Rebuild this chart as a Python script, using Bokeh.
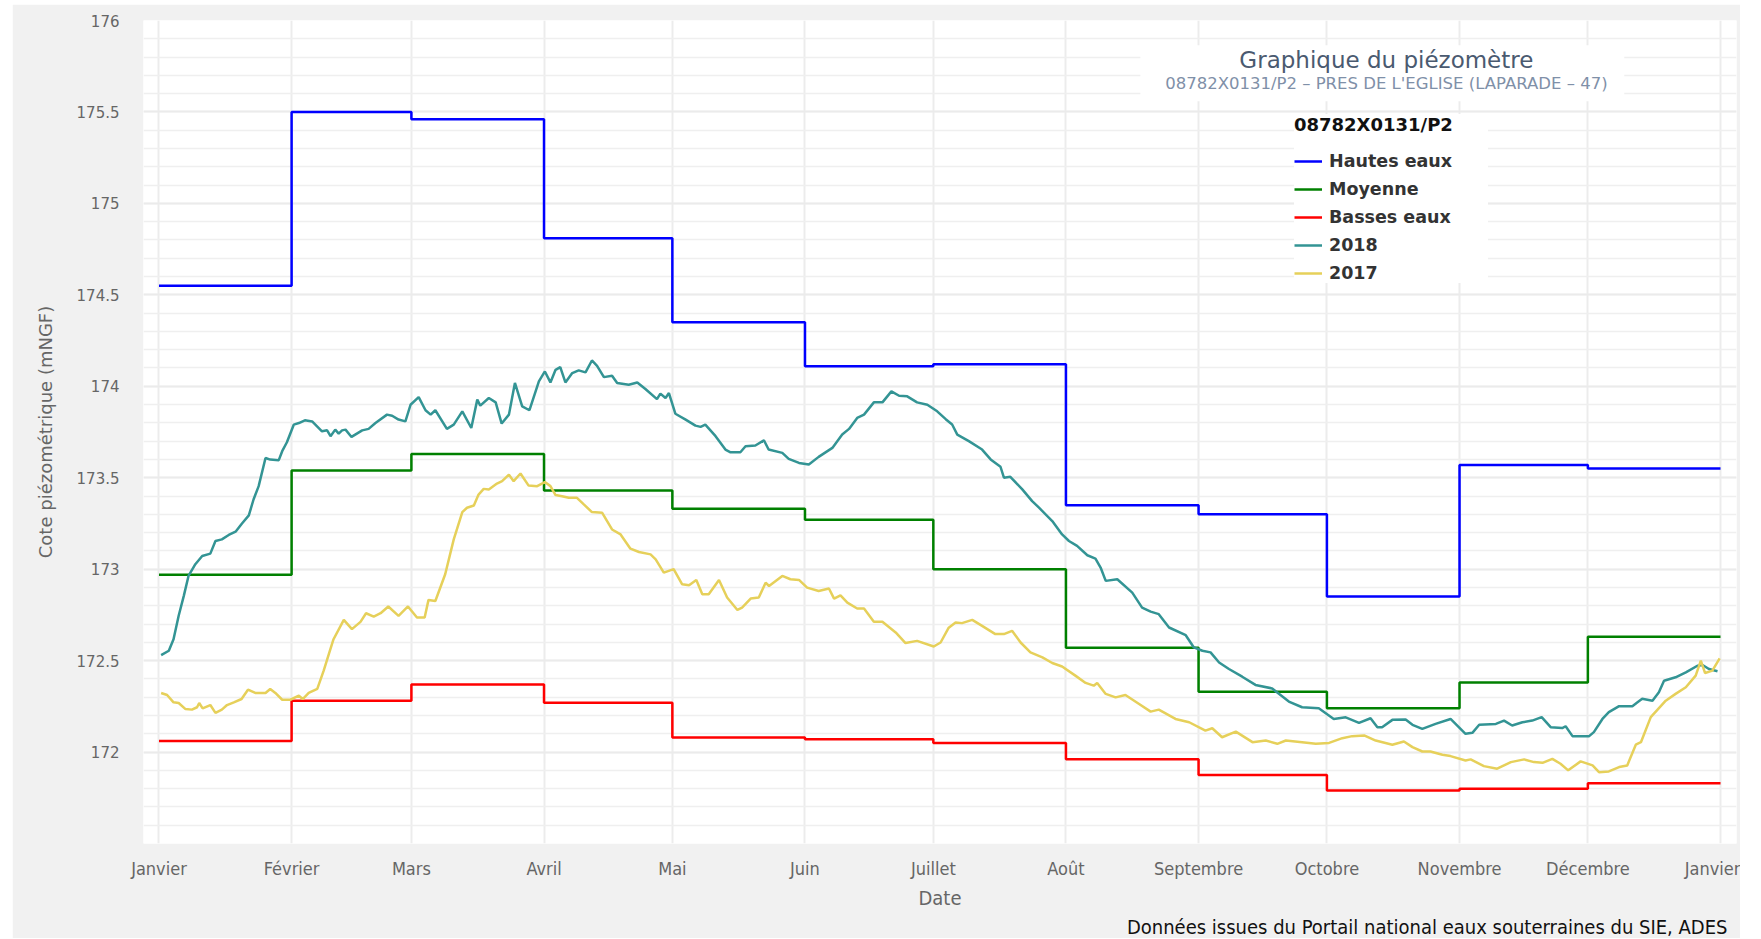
import numpy as np
import pandas as pd
from bokeh.plotting import figure
from bokeh.models import (FixedTicker, NumeralTickFormatter, Legend, LegendItem,
                          Label, BoxAnnotation, Range1d, Title)
from bokeh.embed import file_html
from bokeh.resources import INLINE

# ---------------- data ----------------
month_names = ["Janvier", "Février", "Mars", "Avril", "Mai", "Juin", "Juillet",
               "Août", "Septembre", "Octobre", "Novembre", "Décembre", "Janvier"]

hautes_eaux = [174.55, 175.50, 175.46, 174.81, 174.35, 174.11, 174.12,
               173.35, 173.30, 172.85, 173.57, 173.55]
moyenne = [172.97, 173.54, 173.63, 173.43, 173.33, 173.27, 173.00,
           172.57, 172.33, 172.24, 172.38, 172.63]
basses_eaux = [172.06, 172.28, 172.37, 172.27, 172.08, 172.07, 172.05,
               171.96, 171.875, 171.79, 171.80, 171.83]

days_2018 = [0.5, 2.3, 3.4, 4.6, 5.8, 6.9, 8.5, 10.1, 12.0, 13.2, 14.7, 16.3, 17.9, 19.4,
             21.0, 22.1, 23.3, 24.9, 26.0, 28.0, 28.8, 29.9, 31.5, 32.7, 34.1, 35.8, 38.1,
             39.3, 40.1, 41.2, 42.0, 42.8, 43.6, 45.0, 47.5, 49.0, 50.6, 53.3, 54.5, 56.0,
             57.6, 58.8, 60.7, 62.3, 63.5, 64.6, 67.3, 68.9, 70.9, 73.0, 74.4, 75.1, 77.1,
             78.7, 80.1, 81.8, 83.2, 84.9, 86.6, 88.8, 90.2, 91.5, 92.7, 93.8, 95.0, 96.6,
             98.1, 99.7, 101.2, 102.4, 104.0, 105.9, 107.1, 109.8, 111.8, 113.7, 116.4,
             117.2, 118.4, 119.2, 120.7, 123.1, 125.4, 126.6, 127.7, 130.1, 132.4, 133.6,
             135.9, 137.1, 139.4, 141.4, 142.5, 145.7, 147.2, 149.6, 151.9, 154.2, 157.4,
             159.7, 161.3, 163.2, 164.8, 167.1, 169.1, 171.2, 173.0, 174.9, 177.2, 179.6,
             181.9, 183.9, 185.4, 186.6, 189.3, 192.4, 194.4, 196.7, 197.5, 199.0, 201.8,
             204.1, 205.7, 208.8, 211.1, 212.7, 214.6, 217.0, 218.9, 220.1, 221.3, 224.0,
             227.5, 229.8, 231.8, 233.7, 236.1, 240.0, 241.9, 243.9, 245.8, 247.8, 250.1,
             253.2, 256.3, 260.2, 264.1, 267.2, 271.1, 274.6, 277.4, 280.5, 283.2, 284.8,
             285.9, 288.3, 291.4, 293.0, 295.3, 298.4, 301.9, 305.4, 307.0, 308.6, 312.5,
             314.4, 316.3, 318.7, 321.0, 323.2, 325.3, 328.0, 328.8, 330.4, 334.3, 335.4,
             337.4, 338.9, 341.3, 342.8, 344.4, 345.6, 346.7, 349.1, 350.6, 351.8, 354.5,
             356.9, 359.6, 360.8, 362.3, 364.3]
level_2018 = [172.530, 172.554, 172.617, 172.745, 172.854, 172.963, 173.027, 173.072,
              173.085, 173.154, 173.163, 173.187, 173.205, 173.250, 173.294, 173.381,
              173.454, 173.608, 173.599, 173.596, 173.645, 173.694, 173.790, 173.799,
              173.814, 173.808, 173.754, 173.759, 173.727, 173.763, 173.741, 173.759,
              173.763, 173.723, 173.759, 173.767, 173.799, 173.845, 173.839, 173.818,
              173.808, 173.899, 173.941, 173.869, 173.845, 173.869, 173.767, 173.790,
              173.863, 173.772, 173.927, 173.894, 173.936, 173.912, 173.796, 173.845,
              174.018, 173.890, 173.869, 174.027, 174.081, 174.021, 174.090, 174.105,
              174.021, 174.072, 174.087, 174.076, 174.141, 174.112, 174.050, 174.058,
              174.018, 174.008, 174.021, 173.985, 173.930, 173.960, 173.936, 173.963,
              173.850, 173.818, 173.785, 173.778, 173.790, 173.727, 173.654, 173.639,
              173.639, 173.672, 173.676, 173.705, 173.654, 173.636, 173.603, 173.581,
              173.572, 173.614, 173.663, 173.736, 173.767, 173.827, 173.845, 173.912,
              173.912, 173.972, 173.948, 173.945, 173.912, 173.899, 173.863, 173.820,
              173.791, 173.736, 173.700, 173.654, 173.600, 173.560, 173.500, 173.505,
              173.436, 173.372, 173.336, 173.263, 173.190, 173.154, 173.127, 173.076,
              173.058, 173.009, 172.936, 172.945, 172.872, 172.790, 172.768, 172.754,
              172.681, 172.639, 172.572, 172.554, 172.545, 172.490, 172.454, 172.412,
              172.367, 172.348, 172.276, 172.245, 172.239, 172.181, 172.190, 172.160,
              172.185, 172.136, 172.136, 172.176, 172.178, 172.149, 172.127, 172.154,
              172.181, 172.100, 172.105, 172.149, 172.154, 172.172, 172.145, 172.163,
              172.172, 172.191, 172.136, 172.131, 172.141, 172.087, 172.087, 172.109,
              172.181, 172.218, 172.251, 172.251, 172.251, 172.272, 172.291, 172.281,
              172.327, 172.390, 172.409, 172.436, 172.472, 172.476, 172.454, 172.442]

days_2017 = [0.5, 1.9, 3.4, 4.6, 6.2, 7.7, 8.9, 9.4, 10.2, 12.0, 13.2, 14.7, 15.9, 17.5,
             19.3, 20.8, 22.5, 24.9, 26.0, 27.2, 28.8, 30.7, 32.7, 33.6, 35.0, 37.0, 38.5,
             39.7, 40.8, 43.2, 45.1, 47.1, 48.4, 50.2, 51.8, 53.6, 56.0, 58.2, 60.3, 62.1,
             63.0, 64.6, 66.9, 68.9, 70.9, 72.0, 73.6, 74.7, 75.9, 77.1, 79.0, 80.2, 81.8,
             82.9, 84.5, 86.4, 88.4, 90.2, 91.5, 92.7, 94.2, 95.8, 97.7, 99.3, 101.2, 103.6,
             105.9, 107.9, 110.2, 112.2, 114.9, 116.1, 118.0, 120.3, 122.3, 123.9, 125.6,
             127.0, 128.5, 130.9, 132.8, 135.2, 136.3, 138.3, 140.2, 141.8, 142.6, 145.7,
             147.6, 149.6, 151.5, 154.2, 156.6, 157.8, 159.3, 160.9, 163.2, 164.8, 167.1,
             169.1, 172.2, 174.5, 177.2, 181.1, 182.7, 184.6, 186.2, 187.7, 190.1, 192.4,
             195.5, 197.5, 199.4, 201.4, 203.7, 206.5, 208.8, 211.1, 214.2, 216.6, 218.5,
             219.3, 221.3, 223.6, 225.9, 229.1, 231.8, 233.7, 237.6, 240.8, 244.6, 246.2,
             248.5, 251.7, 255.6, 258.7, 261.4, 263.4, 267.2, 270.4, 273.5, 276.6, 278.9,
             281.7, 284.4, 288.3, 291.0, 293.0, 295.3, 297.2, 300.0, 301.9, 305.4, 306.6,
             309.7, 312.8, 316.0, 319.1, 321.4, 323.4, 325.7, 327.6, 329.4, 332.3, 335.1,
             336.6, 338.9, 341.3, 343.2, 345.2, 346.4, 348.7, 352.2, 354.5, 356.9, 359.2,
             360.4, 361.4, 363.1, 364.8]
level_2017 = [172.323, 172.312, 172.272, 172.268, 172.235, 172.232, 172.245, 172.268,
              172.239, 172.257, 172.214, 172.232, 172.257, 172.272, 172.290, 172.341,
              172.323, 172.323, 172.345, 172.323, 172.286, 172.286, 172.308, 172.290,
              172.323, 172.345, 172.445, 172.535, 172.617, 172.723, 172.672, 172.712,
              172.759, 172.741, 172.759, 172.796, 172.745, 172.796, 172.736, 172.736,
              172.832, 172.826, 172.972, 173.163, 173.312, 173.336, 173.348, 173.408,
              173.439, 173.436, 173.468, 173.481, 173.517, 173.481, 173.523, 173.457,
              173.454, 173.476, 173.454, 173.405, 173.399, 173.390, 173.390, 173.354,
              173.312, 173.308, 173.217, 173.190, 173.112, 173.094, 173.081, 173.054,
              172.981, 173.000, 172.917, 172.912, 172.941, 172.863, 172.863, 172.941,
              172.845, 172.777, 172.790, 172.839, 172.845, 172.926, 172.908, 172.963,
              172.945, 172.941, 172.899, 172.881, 172.894, 172.839, 172.857, 172.817,
              172.785, 172.785, 172.712, 172.712, 172.654, 172.596, 172.608, 172.577,
              172.599, 172.680, 172.709, 172.705, 172.723, 172.690, 172.645, 172.645,
              172.663, 172.599, 172.545, 172.518, 172.487, 172.468, 172.418, 172.378,
              172.363, 172.378, 172.318, 172.299, 172.312, 172.263, 172.221, 172.232,
              172.181, 172.163, 172.117, 172.130, 172.081, 172.112, 172.054, 172.063,
              172.045, 172.063, 172.054, 172.045, 172.050, 172.076, 172.087, 172.091,
              172.063, 172.040, 172.058, 172.027, 172.003, 172.003, 171.985, 171.978,
              171.954, 171.960, 171.923, 171.909, 171.945, 171.960, 171.945, 171.941,
              171.963, 171.936, 171.900, 171.949, 171.927, 171.890, 171.894, 171.918,
              171.927, 172.040, 172.054, 172.191, 172.281, 172.318, 172.354, 172.418,
              172.500, 172.432, 172.445, 172.512]

y_ticks = [172, 172.5, 173, 173.5, 174, 174.5, 175, 175.5, 176]

# ---------------- derived ----------------
year0 = pd.Timestamp("2018-01-01")
month_starts = [(d - year0).days for d in pd.date_range("2018-01-01", "2019-01-01", freq="MS")]

def stepped(vals):
    return list(vals) + [vals[-1]]

p = figure(width=1728, height=934, output_backend="svg", toolbar_location=None,
           x_range=Range1d(-3.62, 368.74), y_range=Range1d(171.5, 176.0),
           min_border_left=131, min_border_right=4, min_border_top=16, min_border_bottom=93,
           background_fill_color="white", border_fill_color="#f1f1f1",
           outline_line_color=None)
p.margin = (4, 0, 0, 12)

# axes
p.xaxis.ticker = FixedTicker(ticks=month_starts)
p.xaxis.major_label_overrides = {m: n for m, n in zip(month_starts, month_names)}
p.yaxis.ticker = FixedTicker(ticks=y_ticks,
                             minor_ticks=[round(171.5 + 0.1 * i, 1) for i in range(46)])
p.yaxis.formatter = NumeralTickFormatter(format="0.[0]")

for ax in (p.xaxis[0], p.yaxis[0]):
    ax.axis_line_color = None
    ax.major_tick_line_color = None
    ax.minor_tick_line_color = None
    ax.major_label_text_color = "#666666"
    ax.axis_label_text_color = "#666666"
    ax.axis_label_text_font_style = "normal"

cond = "'Liberation Sans Narrow', 'DejaVu Sans Condensed', 'Open Sans', sans-serif"
p.xaxis.major_label_text_font = cond
p.xaxis.major_label_text_font_size = "18px"
p.xaxis.major_label_standoff = 8
p.xaxis.axis_label = "Date"
p.xaxis.axis_label_text_font = cond
p.xaxis.axis_label_text_font_size = "20px"
p.xaxis.axis_label_standoff = 4

p.yaxis.major_label_text_font = "DejaVu Sans"
p.yaxis.major_label_text_font_size = "15px"
p.yaxis.major_label_standoff = 18
p.yaxis.axis_label = "Cote piézométrique (mNGF)"
p.yaxis.axis_label_text_font = "DejaVu Sans"
p.yaxis.axis_label_text_font_size = "18px"
p.yaxis.axis_label_standoff = 18

# grids
p.xgrid.grid_line_color = "#ececec"
p.xgrid.grid_line_width = 2
p.ygrid.grid_line_color = "#ebebeb"
p.ygrid.grid_line_width = 2
p.ygrid.minor_grid_line_color = "#efefef"
p.ygrid.minor_grid_line_width = 1.5

# series
lw = 2.5
r_hi = p.step(month_starts, stepped(hautes_eaux), mode="after", line_color="#0000ff", line_width=lw)
r_mo = p.step(month_starts, stepped(moyenne), mode="after", line_color="#008000", line_width=lw)
r_lo = p.step(month_starts, stepped(basses_eaux), mode="after", line_color="#ff0000", line_width=lw)
r_18 = p.line(days_2018, level_2018, line_color="#339494", line_width=lw)
r_17 = p.line(days_2017, level_2017, line_color="#e6d05a", line_width=lw)

legend = Legend(items=[LegendItem(label="Hautes eaux", renderers=[r_hi]),
                       LegendItem(label="Moyenne", renderers=[r_mo]),
                       LegendItem(label="Basses eaux", renderers=[r_lo]),
                       LegendItem(label="2018", renderers=[r_18]),
                       LegendItem(label="2017", renderers=[r_17])],
                location=(1151, 560),
                title="08782X0131/P2",
                title_text_font="DejaVu Sans", title_text_font_style="bold",
                title_text_font_size="18px", title_text_color="#111111",
                title_standoff=16,
                label_text_font="DejaVu Sans", label_text_font_style="bold",
                label_text_font_size="17.5px", label_text_color="#333333",
                glyph_width=28, glyph_height=20, label_height=20, label_width=159,
                label_standoff=7, spacing=8, padding=8, margin=0,
                background_fill_color="white", background_fill_alpha=1.0,
                border_line_color=None)
p.add_layout(legend, "center")

# title box
p.add_layout(BoxAnnotation(left=229.4, right=342.5, bottom=175.558, top=175.864,
                           fill_color="white", fill_alpha=1.0, line_color=None))
p.add_layout(Label(x=286.9, y=175.782, text="Graphique du piézomètre",
                   text_align="center", text_baseline="middle",
                   text_font="DejaVu Sans", text_font_size="23px", text_color="#4a5a70"))
p.add_layout(Label(x=286.9, y=175.656, text="08782X0131/P2 – PRES DE L'EGLISE (LAPARADE – 47)",
                   text_align="center", text_baseline="middle",
                   text_font="DejaVu Sans", text_font_size="16.5px", text_color="#7f90a8"))

credit = Title(text="Données issues du Portail national eaux souterraines du SIE, ADES",
               align="right", offset=9, standoff=0,
               text_font=cond, text_font_size="20px", text_font_style="normal",
               text_color="#111111")
p.add_layout(credit, "below")

open("out.html", "w").write(file_html(p, INLINE))
